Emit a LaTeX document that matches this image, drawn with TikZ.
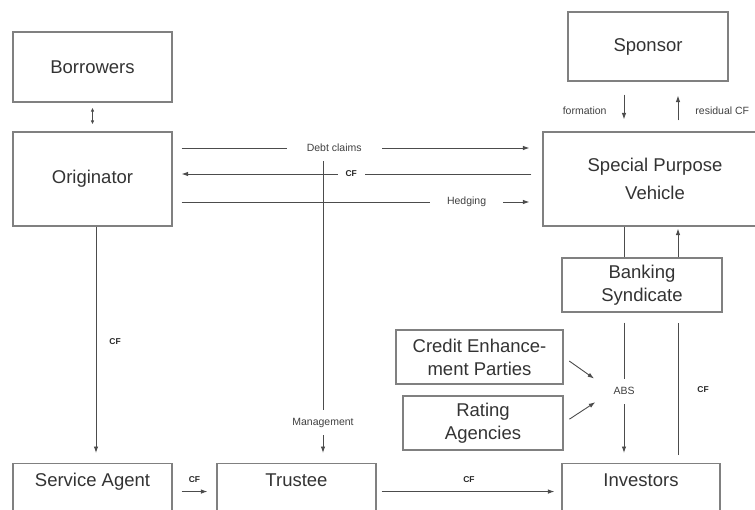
\documentclass[tikz,border=0pt]{standalone}
\usepackage{fontspec}
\setmainfont{Liberation Sans}
\usetikzlibrary{arrows.meta,positioning}
\begin{document}
\begin{tikzpicture}[x=1pt,y=-1pt,
  boxbase/.style={draw=black!50, line width=1.1pt, text=black!80,
    font=\fontsize{18.5}{23}\selectfont, inner sep=0pt},
  box/.style={boxbase, align=center},
  lowbox/.style={boxbase, anchor=north, minimum height=94pt,
    text height=23pt, text depth=71pt},
  flow/.style={draw=black!70, line width=0.9pt},
  arr/.style={flow, -{Latex[length=6.5pt,width=4.5pt]}},
  dbl/.style={flow, {Latex[length=4pt,width=3.5pt]}-{Latex[length=4pt,width=3.5pt]}},
  lbl/.style={text=black!75, font=\fontsize{10.5}{12}\selectfont, inner sep=1pt},
  cf/.style={text=black!85, font=\fontsize{8.5}{10}\selectfont\bfseries, inner sep=1pt},
  gap/.style={fill=white},
]
\useasboundingbox (0,0) rectangle (755,509);
\clip (0,0) rectangle (755,509);

% columns of the flows between SPV, syndicate and investors
\coordinate (colA) at (624,0);
\coordinate (colB) at (678,0);

% parties
\node[box, minimum width=159pt, minimum height=70pt] (bor) at (92.5,67) {Borrowers};
\node[box, minimum width=159pt, minimum height=94pt] (orig) at (92.5,179) {Originator};
\node[box, minimum width=160pt, minimum height=69pt] (spo) at (648,46.5) {Sponsor};
\node[box, minimum width=224pt, minimum height=94pt] (spv) at (655,179) {Special Purpose\\[5pt]Vehicle};
\node[box, minimum width=160pt, minimum height=54pt] (bank) at (642,285) {Banking\\Syndicate};
\node[box, minimum width=167pt, minimum height=54pt] (cep) at (479.5,357) {Credit Enhance-\\ment Parties};
\node[box, minimum width=160pt, minimum height=54pt] (rat) at (483,423) {Rating\\Agencies};
\node[lowbox, minimum width=159pt] (svc) at (92.5,463) {Service Agent};
\node[lowbox, minimum width=159pt] (trust) at (296.5,463) {Trustee};
\node[lowbox, minimum width=158pt] (inv) at (641,463) {Investors};

% borrowers and originator
\draw[dbl, shorten <=5pt, shorten >=7pt] (bor.south) -- (orig.north);

% originator and SPV
\draw[arr, shorten <=9pt, shorten >=13pt] ([yshift=31pt]orig.east)
  -- node[lbl, gap, inner xsep=20pt, pos=0.437] {Debt claims} ([yshift=31pt]spv.west);
\draw[arr, shorten <=11pt, shorten >=9pt] ([yshift=5pt]spv.west)
  -- node[cf, gap, inner xsep=8pt, pos=0.517] {CF} ([yshift=5pt]orig.east);
\draw[arr, shorten <=9pt, shorten >=13pt] ([yshift=-23pt]orig.east)
  -- node[lbl, gap, inner xsep=17pt, pos=0.795] {Hedging} ([yshift=-23pt]spv.west);

% sponsor and SPV
\draw[arr, shorten <=13pt, shorten >=12pt] (colA |- spo.south)
  -- node[lbl, left=16pt, pos=0.59] {formation} (colA |- spv.north);
\draw[arr, shorten <=11pt, shorten >=14pt] (colB |- spv.north)
  -- node[lbl, right=16pt, pos=0.41] {residual CF} (colB |- spo.south);

% SPV and banking syndicate
\draw[flow] (colA |- spv.south) -- (colA |- bank.north);
\draw[arr, shorten >=2pt] (colB |- bank.north) -- (colB |- spv.south);

% banking syndicate and investors
\draw[arr, shorten <=10pt, shorten >=10pt] (colA |- bank.south)
  -- node[lbl, gap, inner ysep=9pt, pos=0.523] (abs) {ABS} (colA |- inv.north);
\draw[flow, shorten <=8pt, shorten >=10pt] (colB |- inv.north)
  -- node[cf, right=18pt, pos=0.49] {CF} (colB |- bank.south);

% credit enhancement and rating
\draw[arr, shorten <=7pt, shorten >=22pt] (cep.east) -- (abs.west);
\draw[arr, shorten <=7pt, shorten >=20pt] (rat.east) -- (abs.west);

% originator to service agent
\draw[arr, shorten >=10pt] ([xshift=3.5pt]orig.south)
  -- node[cf, right=12pt, pos=0.485] {CF} ([xshift=3.5pt]svc.north);

% management
\coordinate (mtop) at (323,161);
\draw[arr, shorten >=10pt] (mtop)
  -- node[lbl, gap, inner ysep=8pt, pos=0.866] {Management} (mtop |- trust.north);

% bottom cash flows
\draw[arr, shorten <=9pt, shorten >=9pt] ([yshift=19pt]svc.east)
  -- node[cf, above=8pt] {CF} ([yshift=19pt]trust.west);
\draw[arr, shorten <=5pt, shorten >=7pt] ([yshift=19pt]trust.east)
  -- node[cf, above=8pt] {CF} ([yshift=19pt]inv.west);
\end{tikzpicture}
\end{document}
